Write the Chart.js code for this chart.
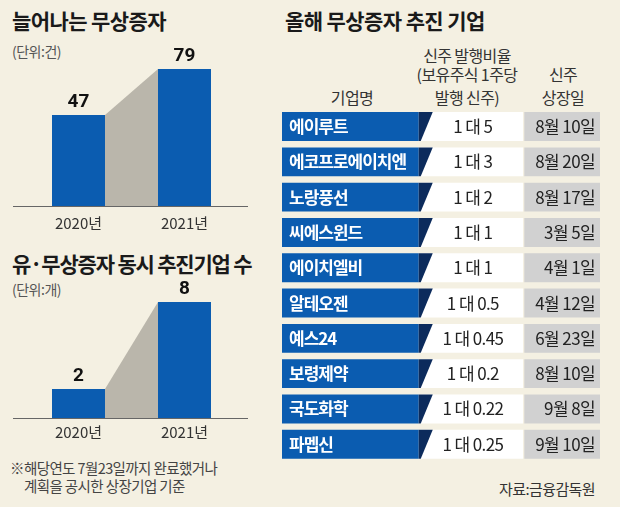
<!DOCTYPE html>
<html>
<head>
<meta charset="utf-8">
<script src="https://cdn.jsdelivr.net/npm/chart.js@4.4.0/dist/chart.umd.min.js"></script>
<style>
  body { margin: 0; background: #f4f0e2; }
  #wrap { position: relative; width: 620px; height: 507px; overflow: hidden; background: #f4f0e2;
          font-family: 'Noto Sans CJK KR', 'Noto Sans', sans-serif; color: #222; }
  .t { position: absolute; white-space: nowrap; line-height: 1; }
  .title { font-weight: 700; font-size: 21px; letter-spacing: -0.6px; color: #1a1a1a; }
  .unit { font-size: 14px; color: #555; letter-spacing: -0.5px; }
  .note { font-size: 14.5px; color: #444; letter-spacing: -0.6px; }
  .head { font-size: 16px; color: #333; letter-spacing: -0.6px; text-align: center; }
  canvas { position: absolute; }
</style>
</head>
<body>
<div id="wrap">
  <div class="t title" style="left:12px;top:10px">늘어나는 무상증자</div>
  <div class="t unit" style="left:12px;top:44px">(단위:건)</div>
  <div class="t title" style="left:12px;top:253px;letter-spacing:-1.2px">유·무상증자 동시 추진기업 수</div>
  <div class="t unit" style="left:12px;top:282px">(단위:개)</div>
  <div class="t note" style="left:10px;top:461px">※해당연도 7월23일까지 완료했거나</div>
  <div class="t note" style="left:24px;top:479px">계획을 공시한 상장기업 기준</div>

  <div class="t title" style="left:285px;top:10px">올해 무상증자 추진 기업</div>
  <div class="t head" style="left:417px;width:100px;top:47px">신주 발행비율</div>
  <div class="t head" style="left:407px;width:120px;top:66px">(보유주식 1주당</div>
  <div class="t head" style="left:417px;width:100px;top:89px">발행 신주)</div>
  <div class="t head" style="left:302px;width:100px;top:89px">기업명</div>
  <div class="t head" style="left:523px;width:80px;top:66px">신주</div>
  <div class="t head" style="left:523px;width:80px;top:89px">상장일</div>
  <div class="t note" style="right:25px;top:481px;color:#333;font-size:15px">자료:금융감독원</div>

  <canvas id="c1" width="260" height="244" style="left:0;top:0"></canvas>
  <canvas id="c2" width="260" height="210" style="left:0;top:245px"></canvas>
  <canvas id="c3" width="350" height="372" style="left:270px;top:100px"></canvas>
</div>
<script>
// data
var years = ['2020년', '2021년'];
var freeIssueCounts = [47, 79];      // 늘어나는 무상증자 (건)
var dualIssueCounts = [2, 8];        // 유·무상증자 동시 추진 (개)
var companies = ['에이루트', '에코프로에이치엔', '노랑풍선', '씨에스윈드', '에이치엘비',
                 '알테오젠', '예스24', '보령제약', '국도화학', '파멥신'];
var ratios = ['1 대 5', '1 대 3', '1 대 2', '1 대 1', '1 대 1',
              '1 대 0.5', '1 대 0.45', '1 대 0.2', '1 대 0.22', '1 대 0.25'];
var listingDates = ['8월 10일', '8월 20일', '8월 17일', '3월 5일', '4월 1일',
                    '4월 12일', '6월 23일', '8월 10일', '9월 8일', '9월 10일'];

var BLUE = '#0b5cb0';
var NAVY = '#0c2b5c';
var FONT = "'Noto Sans CJK KR', 'Noto Sans', sans-serif";

Chart.defaults.font.family = FONT;
Chart.defaults.devicePixelRatio = 1;

// gray ramp between the two bars + value labels + baseline
var barDeco = {
  id: 'barDeco',
  beforeDatasetsDraw: function(chart) {
    var ctx = chart.ctx;
    var bars = chart.getDatasetMeta(0).data;
    var a = bars[0], b = bars[1];
    ctx.save();
    ctx.fillStyle = '#bab6ab';
    ctx.beginPath();
    ctx.moveTo(a.x + a.width / 2, a.y);
    ctx.lineTo(b.x - b.width / 2, b.y);
    ctx.lineTo(b.x - b.width / 2, b.base);
    ctx.lineTo(a.x + a.width / 2, a.base);
    ctx.closePath();
    ctx.fill();
    ctx.restore();
  },
  afterDatasetsDraw: function(chart) {
    var ctx = chart.ctx;
    var meta = chart.getDatasetMeta(0);
    var vals = chart.data.datasets[0].data;
    ctx.save();
    ctx.strokeStyle = '#666';
    ctx.lineWidth = 1;
    var y0 = Math.round(meta.data[0].base) + 0.5;
    ctx.beginPath();
    ctx.moveTo(13, y0);
    ctx.lineTo(248, y0);
    ctx.stroke();
    ctx.fillStyle = '#111';
    ctx.font = "bold 19px Roboto, " + FONT;
    ctx.textAlign = 'center';
    ctx.textBaseline = 'alphabetic';
    meta.data.forEach(function(bar, i) {
      ctx.fillText(vals[i], bar.x, bar.y - 8);
    });
    ctx.restore();
  }
};

function makeBars(id, values, floor, top, pad, tickPad) {
  new Chart(document.getElementById(id), {
    type: 'bar',
    data: {
      labels: years,
      datasets: [{
        data: values,
        base: floor,
        backgroundColor: BLUE,
        barPercentage: 0.5,
        categoryPercentage: 1
      }]
    },
    options: {
      responsive: false,
      animation: false,
      layout: { padding: { left: 25.5, right: 22.5, top: pad[0], bottom: pad[1] } },
      plugins: { legend: { display: false }, tooltip: { enabled: false } },
      scales: {
        x: {
          grid: { display: false, drawTicks: false },
          border: { display: false },
          ticks: { padding: tickPad, color: '#333', font: { size: 15 } }
        },
        y: { display: false, min: floor, max: top }
      }
    },
    plugins: [barDeco]
  });
}

makeBars('c1', freeIssueCounts, -16.3, 100, [38.8, 3], 8.5);
makeBars('c2', dualIssueCounts, 0, 10, [28, 8], 5.5);

// table drawn as floating horizontal bars
var nameCol = [0, 43];
var ratioCol = [43, 75.8];
var dateCol = [76.2, 100];

var tableText = {
  id: 'tableText',
  afterDatasetsDraw: function(chart) {
    var ctx = chart.ctx;
    var names = chart.getDatasetMeta(0).data;
    var mids = chart.getDatasetMeta(1).data;
    var dates = chart.getDatasetMeta(2).data;
    ctx.save();
    names.forEach(function(el, i) {
      var top = el.y - el.height / 2, bot = el.y + el.height / 2;
      ctx.fillStyle = NAVY;
      ctx.beginPath();
      ctx.moveTo(el.x, top);
      ctx.lineTo(el.x + 14, top);
      ctx.lineTo(el.x + 2, bot);
      ctx.lineTo(el.x, bot);
      ctx.closePath();
      ctx.fill();

      ctx.textBaseline = 'middle';
      ctx.fillStyle = '#fff';
      ctx.font = 'bold 17px ' + FONT;
      ctx.letterSpacing = '-1px';
      ctx.textAlign = 'left';
      ctx.fillText(companies[i], el.base + 7, el.y);

      ctx.fillStyle = '#222';
      ctx.font = '17px ' + FONT;
      ctx.letterSpacing = '-0.6px';
      ctx.textAlign = 'center';
      var m = mids[i];
      ctx.fillText(ratios[i], (m.base + m.x) / 2 + 2, el.y);

      var d = dates[i];
      ctx.textAlign = 'right';
      ctx.fillText(listingDates[i], d.x - 5, el.y);
    });
    ctx.restore();
  }
};

new Chart(document.getElementById('c3'), {
  type: 'bar',
  data: {
    labels: companies,
    datasets: [
      { data: companies.map(function() { return nameCol; }), backgroundColor: BLUE },
      { data: companies.map(function() { return ratioCol; }), backgroundColor: '#ffffff' },
      { data: companies.map(function() { return dateCol; }), backgroundColor: '#d1d1d1' }
    ]
  },
  options: {
    indexAxis: 'y',
    responsive: false,
    animation: false,
    datasets: { bar: { grouped: false, barPercentage: 0.82, categoryPercentage: 1 } },
    layout: { padding: { left: 12, right: 20, top: 8.9, bottom: 10.1 } },
    plugins: { legend: { display: false }, tooltip: { enabled: false } },
    scales: {
      x: { display: false, min: 0, max: 100 },
      y: { display: false }
    }
  },
  plugins: [tableText]
});
</script>
</body>
</html>
